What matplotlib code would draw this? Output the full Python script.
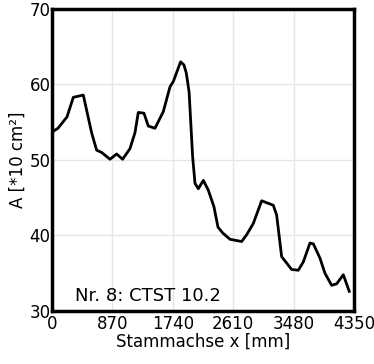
import matplotlib
matplotlib.use("Agg")
import matplotlib.pyplot as plt
import numpy as np

# profile along the stem axis
x_mm = [0, 86, 216, 307, 451, 499, 571, 643, 715, 835, 931, 1017, 1123, 1195,
        1243, 1325, 1387, 1483, 1603, 1700, 1748, 1852, 1900, 1935, 1975, 2026,
        2060, 2108, 2180, 2252, 2333, 2391, 2463, 2564, 2732, 2804, 2900, 3020,
        3188, 3236, 3308, 3452, 3548, 3620, 3716, 3764, 3860, 3932, 4028, 4100,
        4196, 4282]
area = [53.7, 54.2, 55.7, 58.3, 58.6, 56.6, 53.6, 51.3, 51.0, 50.1, 50.8, 50.1,
        51.5, 53.6, 56.3, 56.2, 54.5, 54.2, 56.4, 59.7, 60.4, 63.0, 62.6, 61.5,
        59.0, 50.4, 46.9, 46.2, 47.3, 46.0, 43.8, 41.1, 40.3, 39.5, 39.2, 40.1,
        41.6, 44.6, 44.0, 42.7, 37.2, 35.5, 35.4, 36.5, 39.0, 38.9, 37.0, 35.0,
        33.4, 33.6, 34.8, 32.6]
xticks = [0, 870, 1740, 2610, 3480, 4350]
yticks = [30, 40, 50, 60, 70]

plt.rcParams["font.family"] = "DejaVu Sans"
fig = plt.figure(figsize=(3.74, 3.64), dpi=100)
ax = fig.add_axes([0.139, 0.1456, 0.8075, 0.8297])
ax.plot(x_mm, area, color="black", lw=2.0)
ax.set_xlim(0, 4350)
ax.set_ylim(30, 70)
ax.set_xticks(xticks)
ax.set_yticks(yticks)
ax.grid(True, color="#e6e6e6", lw=1.0)
ax.set_axisbelow(True)
ax.tick_params(length=0, labelsize=12)
ax.tick_params(axis="x", pad=3)
ax.tick_params(axis="y", pad=1)
for s in ax.spines.values():
    s.set_linewidth(2.5)
ax.set_xlabel("Stammachse x [mm]", fontsize=12, labelpad=0)
ax.set_ylabel("A [*10 cm²]", fontsize=12, labelpad=2)
ax.text(330, 31.3, "Nr. 8: CTST 10.2", fontsize=13)
fig.savefig("out.png", dpi=100)
